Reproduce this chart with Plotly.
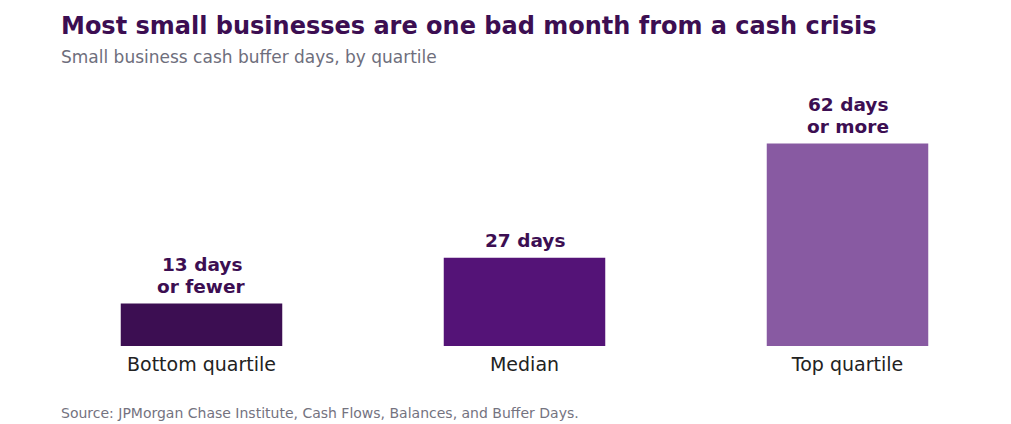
import plotly.graph_objects as go

# data
quartiles = ["Bottom quartile", "Median", "Top quartile"]
buffer_days = [13, 27, 62]
bar_labels = ["13 days<br>or fewer", "27 days", "62 days<br>or more"]
bar_colors = ["#3c0e52", "#541377", "#885aa2"]

PLOT_H = 245
PLOT_W = 969

fig = go.Figure()

fig.add_trace(go.Bar(
    x=quartiles,
    y=buffer_days,
    marker_color=bar_colors,
    marker_line_width=0,
    width=0.5,
    hoverinfo="skip",
))

# value labels above each bar, one annotation per line for tighter spacing
for q, v, lab in zip(quartiles, buffer_days, bar_labels):
    lines = lab.split("<br>")[::-1]
    for i, line in enumerate(lines):
        fig.add_annotation(
            x=q, y=v, text=f"<b>{line}</b>",
            showarrow=False, yanchor="middle", yshift=17 + 22 * i,
            font=dict(family="DejaVu Sans", size=18.5, color="#3c0e52"),
        )

# title, subtitle, source
fig.add_annotation(
    xref="paper", yref="paper", x=19 / PLOT_W, y=1 + 75 / PLOT_H,
    xanchor="left", yanchor="middle", showarrow=False,
    text="<b>Most small businesses are one bad month from a cash crisis</b>",
    font=dict(family="DejaVu Sans", size=24, color="#3c0e52"),
)
fig.add_annotation(
    xref="paper", yref="paper", x=19 / PLOT_W, y=1 + 44 / PLOT_H,
    xanchor="left", yanchor="middle", showarrow=False,
    text="Small business cash buffer days, by quartile",
    font=dict(family="DejaVu Sans", size=17, color="#6e6e7c"),
)
fig.add_annotation(
    xref="paper", yref="paper", x=19 / PLOT_W, y=-67 / PLOT_H,
    xanchor="left", yanchor="middle", showarrow=False,
    text="Source: JPMorgan Chase Institute, Cash Flows, Balances, and Buffer Days.",
    font=dict(family="DejaVu Sans", size=14, color="#74737f"),
)

fig.update_layout(
    width=1011, height=424,
    paper_bgcolor="white", plot_bgcolor="white",
    margin=dict(l=32, r=10, t=93, b=86, autoexpand=False),
    showlegend=False,
    bargap=0.5,
)

fig.update_xaxes(
    range=[-0.5, 2.5], showline=False, showgrid=False, ticks="",
    ticklabelstandoff=5,
    tickfont=dict(family="DejaVu Sans", size=19, color="#222222"),
)
fig.update_yaxes(range=[0, 75], visible=False)

fig.write_html("out.html")
